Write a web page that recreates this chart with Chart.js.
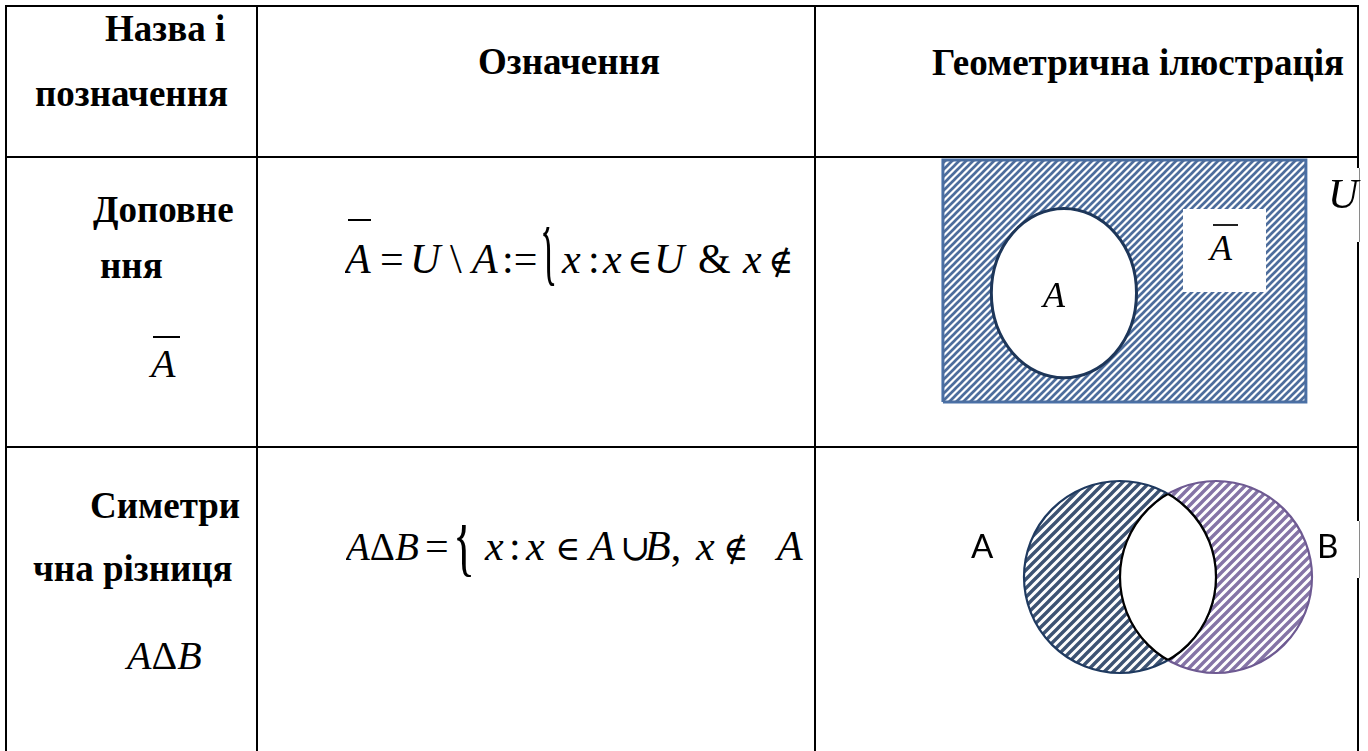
<!DOCTYPE html>
<html lang="uk">
<head>
<meta charset="utf-8">
<title>Доповнення і симетрична різниця</title>
<script src="https://cdn.jsdelivr.net/npm/chart.js@4.4.1/dist/chart.umd.min.js"></script>
<style>
  html, body { margin: 0; padding: 0; background: #fff; }
  body { width: 1368px; height: 751px; position: relative; overflow: hidden;
         font-family: "Liberation Serif", "Times New Roman", serif; color: #000; }
  .ln { position: absolute; background: #000; z-index: 3; }
  .t { position: absolute; line-height: 1; white-space: nowrap; z-index: 4; }
  .b { font-weight: bold; font-size: 37px; }
  .m { font-size: 42px; overflow: hidden; height: 70px; }
  .k { display: inline-block; }
  .br { line-height: 0; font-style: normal; transform-origin: left; }
  .br1 { font-size: 125px; transform: scaleX(0.29); vertical-align: 4px; }
  .br2 { font-size: 92px; transform: scaleX(0.5); vertical-align: -5px; }
  .rel { font-family: "DejaVu Serif", serif; font-size: 34px; }
  .cup { font-family: "DejaVu Serif", serif; font-size: 36px; }
  .bar { position: absolute; height: 2px; background: #000; z-index: 4; }
  .sans { font-family: Lato, "Open Sans", sans-serif; font-size: 33px; }
  canvas { position: absolute; z-index: 1; }
</style>
</head>
<body>

<!-- лінії таблиці -->
<div class="ln" style="left:5px;top:5px;width:1354px;height:2px"></div>
<div class="ln" style="left:5px;top:156px;width:1354px;height:2px"></div>
<div class="ln" style="left:5px;top:446px;width:1354px;height:2px"></div>
<div class="ln" style="left:5px;top:5px;width:2px;height:746px"></div>
<div class="ln" style="left:256px;top:5px;width:2px;height:746px"></div>
<div class="ln" style="left:814px;top:5px;width:2px;height:746px"></div>
<div class="ln" style="left:1357px;top:5px;width:2px;height:746px"></div>
<div class="ln" style="left:1356px;top:168px;width:4px;height:74px;background:#fff"></div>
<div class="ln" style="left:1359px;top:168px;width:1px;height:74px;background:#8a8a8a"></div>
<div class="ln" style="left:1356px;top:521px;width:4px;height:57px;background:#fff"></div>
<div class="ln" style="left:1359px;top:521px;width:1px;height:57px;background:#8a8a8a"></div>

<!-- заголовок -->
<div class="t b" style="left:105px;top:10px">Назва і</div>
<div class="t b" style="left:35px;top:75px">позначення</div>
<div class="t b" style="left:478px;top:43px">Означення</div>
<div class="t b" style="left:932px;top:44px">Геометрична ілюстрація</div>

<!-- доповнення -->
<div class="t b" style="left:93px;top:191px">Доповне</div>
<div class="t b" style="left:100px;top:247px">ння</div>
<div class="t" style="left:151px;top:344px;font-size:40px"><i>A</i></div>
<div class="bar" style="left:153px;top:336px;width:27px"></div>

<div class="t m" style="left:345px;top:227px;width:468px"><span class="k" style="width:35px"><i>A</i></span><span class="k" style="width:30px">=</span><span class="k" style="width:40px"><i>U</i></span><span class="k" style="width:22px">\</span><span class="k" style="width:30px"><i>A</i></span><span class="k" style="width:38px">:=</span><span class="k br br1" style="width:22px">{</span><span class="k" style="width:26px"><i>x</i></span><span class="k" style="width:15px">:</span><span class="k" style="width:24px"><i>x</i></span><span class="k rel" style="width:27px">∈</span><span class="k" style="width:44px"><i>U</i></span><span class="k" style="width:45px">&amp;</span><span class="k" style="width:25px"><i>x</i></span><span class="k rel" style="width:52px">∉</span><span class="k"><i>A</i>}</span></div>
<div class="bar" style="left:348px;top:219px;width:23px"></div>

<!-- симетрична різниця -->
<div class="t b" style="left:90px;top:487px">Симетри</div>
<div class="t b" style="left:33px;top:550px">чна різниця</div>
<div class="t" style="left:127px;top:636px;font-size:40px"><i>A</i>Δ<i>B</i></div>

<div class="t m" style="left:346px;top:525px;width:467px"><span class="k" style="width:79px;font-size:39px"><i>A</i>Δ<i>B</i></span><span class="k" style="width:28px">=</span><span class="k br br2" style="width:32px">{</span><span class="k" style="width:24px"><i>x</i></span><span class="k" style="width:17px">:</span><span class="k" style="width:29px"><i>x</i></span><span class="k rel" style="width:34px">∈</span><span class="k" style="width:31px"><i>A</i></span><span class="k cup" style="width:25px">∪</span><span class="k" style="width:51px"><i>B</i>,</span><span class="k" style="width:27px"><i>x</i></span><span class="k rel" style="width:54px">∉</span><span class="k" style="width:44px"><i>A</i></span><span class="k">}</span></div>

<!-- підписи діаграм -->
<div style="position:absolute;left:1183px;top:209px;width:83px;height:83px;background:#fff;z-index:2"></div>
<div class="t" style="left:1210px;top:230px;font-size:36px"><i>A</i></div>
<div class="bar" style="left:1213px;top:224px;width:25px;height:1.5px;background:#222"></div>
<div class="t" style="left:1043px;top:277px;font-size:36px"><i>A</i></div>
<div class="t" style="left:1328px;top:173px;font-size:42px"><i>U</i></div>
<div class="t sans" style="left:971px;top:529px">A</div>
<div class="t sans" style="left:1317px;top:529px">B</div>

<canvas id="complement" width="542" height="288" style="left:815px;top:158px"></canvas>
<canvas id="symdiff" width="542" height="303" style="left:815px;top:448px"></canvas>

<script>
// Доповнення: універсальна множина U та множина A
const universeX = [0, 12];
const universeY = [0, 8];
const setACenter = [4, 3.6];
const setARadii = [2.4, 2.8];

// Симетрична різниця: дві множини
const vennSets = ['A', 'B'];
const vennCenterX = [0, 5];
const vennCenterY = [0, 0];
const vennRadius = [5, 5];

// Штрихування (лінії "/")
function hatch(color, size, width) {
    const c = document.createElement('canvas');
    c.width = size;
    c.height = size;
    const g = c.getContext('2d');
    g.strokeStyle = color;
    g.lineWidth = width;
    g.beginPath();
    g.moveTo(-1, size + 1); g.lineTo(size + 1, -1);
    g.moveTo(-size / 2 - 1, size / 2 + 1); g.lineTo(size / 2 + 1, -size / 2 - 1);
    g.moveTo(size / 2 - 1, size * 1.5 + 1); g.lineTo(size * 1.5 + 1, size / 2 - 1);
    g.stroke();
    return g.createPattern(c, 'repeat');
}

const vennFill = [hatch('#3d5373', 9, 3.4), hatch('#8574a6', 9, 3.4)];
const vennStroke = ['#1f3a60', '#6e5a92'];

const baseOptions = (xr, yr) => ({
    responsive: false,
    animation: false,
    events: [],
    layout: { padding: 0 },
    plugins: { legend: { display: false }, tooltip: { enabled: false } },
    scales: {
        x: { type: 'linear', display: false, min: xr[0], max: xr[1] },
        y: { type: 'linear', display: false, min: yr[0], max: yr[1] }
    }
});

// Множина A всередині U
const ellipsePlugin = {
    id: 'setA',
    afterDatasetsDraw(chart) {
        const { ctx, scales: { x, y } } = chart;
        const cx = x.getPixelForValue(setACenter[0]);
        const cy = y.getPixelForValue(setACenter[1]);
        const rx = x.getPixelForValue(setACenter[0] + setARadii[0]) - cx;
        const ry = cy - y.getPixelForValue(setACenter[1] + setARadii[1]);
        ctx.save();
        ctx.beginPath();
        ctx.ellipse(cx, cy, rx, ry, 0, 0, Math.PI * 2);
        ctx.fillStyle = '#fff';
        ctx.fill();
        ctx.lineWidth = 3;
        ctx.strokeStyle = '#1d3659';
        ctx.stroke();
        ctx.restore();
    }
};

const outline = [
    { x: universeX[0], y: universeY[0] }, { x: universeX[1], y: universeY[0] },
    { x: universeX[1], y: universeY[1] }, { x: universeX[0], y: universeY[1] },
    { x: universeX[0], y: universeY[0] }
];

new Chart(document.getElementById('complement'), {
    type: 'line',
    data: {
        datasets: [
            {
                label: 'U',
                data: [{ x: universeX[0], y: universeY[1] }, { x: universeX[1], y: universeY[1] }],
                fill: 'origin',
                backgroundColor: hatch('#4d6d9c', 7, 2.7),
                borderColor: 'rgba(0,0,0,0)',
                borderWidth: 0,
                pointRadius: 0
            },
            {
                label: 'U межа',
                data: outline,
                fill: false,
                borderColor: '#4a70a6',
                borderWidth: 3,
                pointRadius: 0
            }
        ]
    },
    options: baseOptions([-4.23, 13.69], [-1.455, 8.066]),
    plugins: [ellipsePlugin]
});

// Радіус кола у пікселях через шкалу
function radiusPx(chart, i) {
    const x = chart.scales.x;
    return Math.abs(x.getPixelForValue(vennCenterX[i] + vennRadius[i]) - x.getPixelForValue(vennCenterX[i]));
}

// Перетин A ∩ B не заштрихований
const lensPlugin = {
    id: 'lens',
    afterDatasetsDraw(chart) {
        const { ctx, scales: { x, y } } = chart;
        const c = vennSets.map((s, i) => ({
            x: x.getPixelForValue(vennCenterX[i]),
            y: y.getPixelForValue(vennCenterY[i]),
            r: radiusPx(chart, i)
        }));
        const circle = k => { ctx.beginPath(); ctx.arc(c[k].x, c[k].y, c[k].r, 0, Math.PI * 2); };
        ctx.save();
        circle(0); ctx.clip();
        circle(1);
        ctx.fillStyle = '#fff';
        ctx.fill();
        ctx.lineWidth = 2.2;
        ctx.strokeStyle = '#000';
        ctx.stroke();
        ctx.restore();
        ctx.save();
        circle(1); ctx.clip();
        circle(0);
        ctx.lineWidth = 2.2;
        ctx.strokeStyle = '#000';
        ctx.stroke();
        ctx.restore();
    }
};

new Chart(document.getElementById('symdiff'), {
    type: 'line',
    data: {
        datasets: vennSets.map((name, i) => ({
            label: name,
            data: [{ x: vennCenterX[i], y: vennCenterY[i] }],
            showLine: false,
            pointStyle: 'circle',
            pointRadius: ctx => radiusPx(ctx.chart, i),
            pointBackgroundColor: vennFill[i],
            pointBorderColor: vennStroke[i],
            pointBorderWidth: 2.2
        }))
    },
    options: baseOptions([-15.885, 12.344], [-9.062, 6.719]),
    plugins: [lensPlugin]
});
</script>
</body>
</html>
